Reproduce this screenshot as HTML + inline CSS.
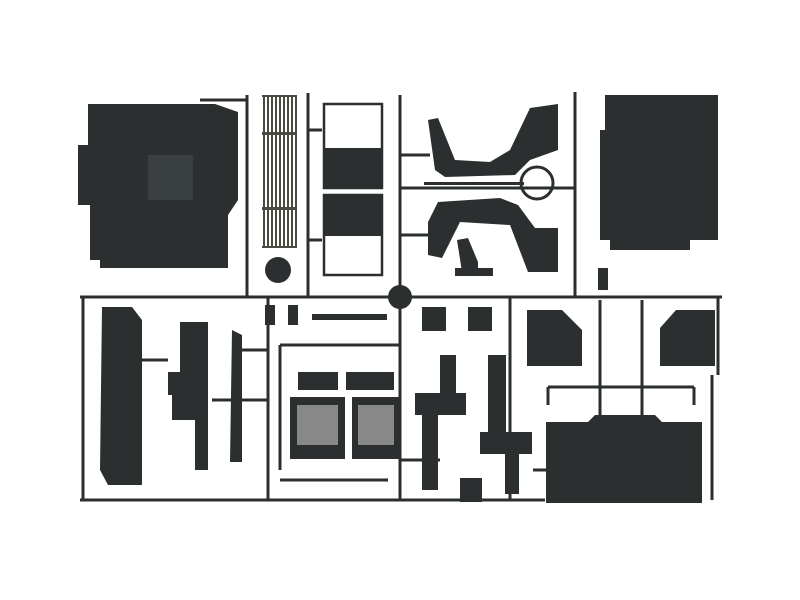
<!DOCTYPE html>
<html><head><meta charset="utf-8"><style>html,body{margin:0;padding:0;background:#fff;width:800px;height:600px;overflow:hidden}</style></head>
<body>
<svg width="800" height="600" viewBox="0 0 800 600" xmlns="http://www.w3.org/2000/svg">
<g stroke="#2b2f2f" stroke-width="3" fill="none">
<line x1="80" y1="297" x2="722" y2="297"/>
<line x1="80" y1="500" x2="545" y2="500"/>
<line x1="83" y1="297" x2="83" y2="500"/>
<line x1="247" y1="95" x2="247" y2="297"/>
<line x1="308" y1="93" x2="308" y2="297"/>
<line x1="400" y1="95" x2="400" y2="500"/>
<line x1="575" y1="92" x2="575" y2="297"/>
<line x1="268" y1="297" x2="268" y2="500"/>
<line x1="718" y1="297" x2="718" y2="375"/>
<line x1="712" y1="375" x2="712" y2="500"/>
<line x1="200" y1="100" x2="247" y2="100"/>
<line x1="510" y1="297" x2="510" y2="500"/>
<line x1="548" y1="387" x2="694" y2="387"/>
<line x1="548" y1="387" x2="548" y2="405"/>
<line x1="694" y1="387" x2="694" y2="405"/>
<line x1="600" y1="300" x2="600" y2="420"/>
<line x1="642" y1="300" x2="642" y2="420"/>
<line x1="400" y1="188" x2="575" y2="188"/>
<line x1="400" y1="155" x2="430" y2="155"/>
<line x1="400" y1="235" x2="430" y2="235"/>
<line x1="308" y1="130" x2="322" y2="130"/>
<line x1="308" y1="240" x2="322" y2="240"/>
<line x1="280" y1="345" x2="400" y2="345"/>
<line x1="280" y1="345" x2="280" y2="470"/>
<line x1="280" y1="480" x2="388" y2="480"/>
<line x1="212" y1="400" x2="268" y2="400"/>
<line x1="242" y1="350" x2="268" y2="350"/>
<line x1="142" y1="360" x2="168" y2="360"/>
<line x1="400" y1="460" x2="440" y2="460"/>
<line x1="533" y1="470" x2="546" y2="470"/>
<circle cx="537" cy="183" r="16"/>
<rect x="324" y="104" width="58" height="84" stroke-width="2.5"/>
<rect x="324" y="195" width="58" height="80" stroke-width="2.5"/>
</g>
<g fill="#2b2f2f">
<path d="M88 104 H215 L238 112 V200 L228 215 V268 H100 V260 H90 V205 H78 V145 H88 Z"/>
<rect x="148" y="155" width="45" height="45" fill="#3a3f3f"/>
<g fill="#4a4a40">
<rect x="263" y="95" width="2" height="153"/><rect x="267" y="95" width="2" height="153"/><rect x="271" y="95" width="2" height="153"/><rect x="275" y="95" width="2" height="153"/><rect x="279" y="95" width="2" height="153"/><rect x="283" y="95" width="2" height="153"/><rect x="287" y="95" width="2" height="153"/><rect x="291" y="95" width="2" height="153"/><rect x="295" y="95" width="2" height="153"/>
<rect x="262" y="95" width="35" height="2"/><rect x="262" y="246" width="35" height="2"/><rect x="262" y="132" width="35" height="3"/><rect x="262" y="207" width="35" height="3"/>
</g>
<rect x="324" y="148" width="58" height="40"/>
<rect x="324" y="195" width="58" height="41"/>
<path d="M428 120 L438 118 L455 160 L490 162 L510 150 L530 108 L558 104 V150 L530 160 L515 175 L445 177 L435 170 Z"/>
<path d="M428 222 L438 202 L500 198 L518 205 L535 228 L558 228 V272 L528 272 L510 225 L460 222 L442 258 L428 255 Z"/>
<rect x="424" y="182" width="100" height="3"/>
<path d="M457 240 L468 238 L478 262 V272 H462 Z"/>
<rect x="455" y="268" width="38" height="8"/>
<path d="M605 95 H718 V240 H690 V250 H610 V240 H600 V130 H605 Z"/>
<circle cx="278" cy="270" r="13"/>
<circle cx="400" cy="297" r="12"/>
<path d="M102 307 H132 L142 320 V485 H108 L100 470 Z"/>
<path d="M180 322 H208 V470 H195 V420 H172 V395 H168 V372 H180 Z"/>
<path d="M232 330 L242 335 V462 H230 Z"/>
<rect x="298" y="372" width="40" height="18"/>
<rect x="346" y="372" width="48" height="18"/>
<rect x="290" y="397" width="55" height="62"/>
<rect x="352" y="397" width="48" height="62"/>
<rect x="297" y="405" width="41" height="40" fill="#888"/>
<rect x="358" y="405" width="36" height="40" fill="#888"/>
<rect x="415" y="393" width="51" height="22"/>
<rect x="440" y="355" width="16" height="40"/>
<rect x="422" y="410" width="16" height="80"/>
<rect x="422" y="307" width="24" height="24"/>
<rect x="468" y="307" width="24" height="24"/>
<rect x="488" y="355" width="18" height="80"/>
<rect x="480" y="432" width="52" height="22"/>
<rect x="505" y="454" width="14" height="40"/>
<rect x="460" y="478" width="22" height="24"/>
<rect x="312" y="314" width="75" height="6"/>
<rect x="265" y="305" width="10" height="20"/>
<rect x="288" y="305" width="10" height="20"/>
<path d="M527 310 H562 L582 330 V366 H527 Z"/>
<path d="M676 310 H715 V366 H660 V328 Z"/>
<path d="M546 422 H588 L595 415 H655 L662 422 H702 V503 H546 Z"/>
<rect x="598" y="268" width="10" height="22"/>
</g>
</svg>
</body></html>
